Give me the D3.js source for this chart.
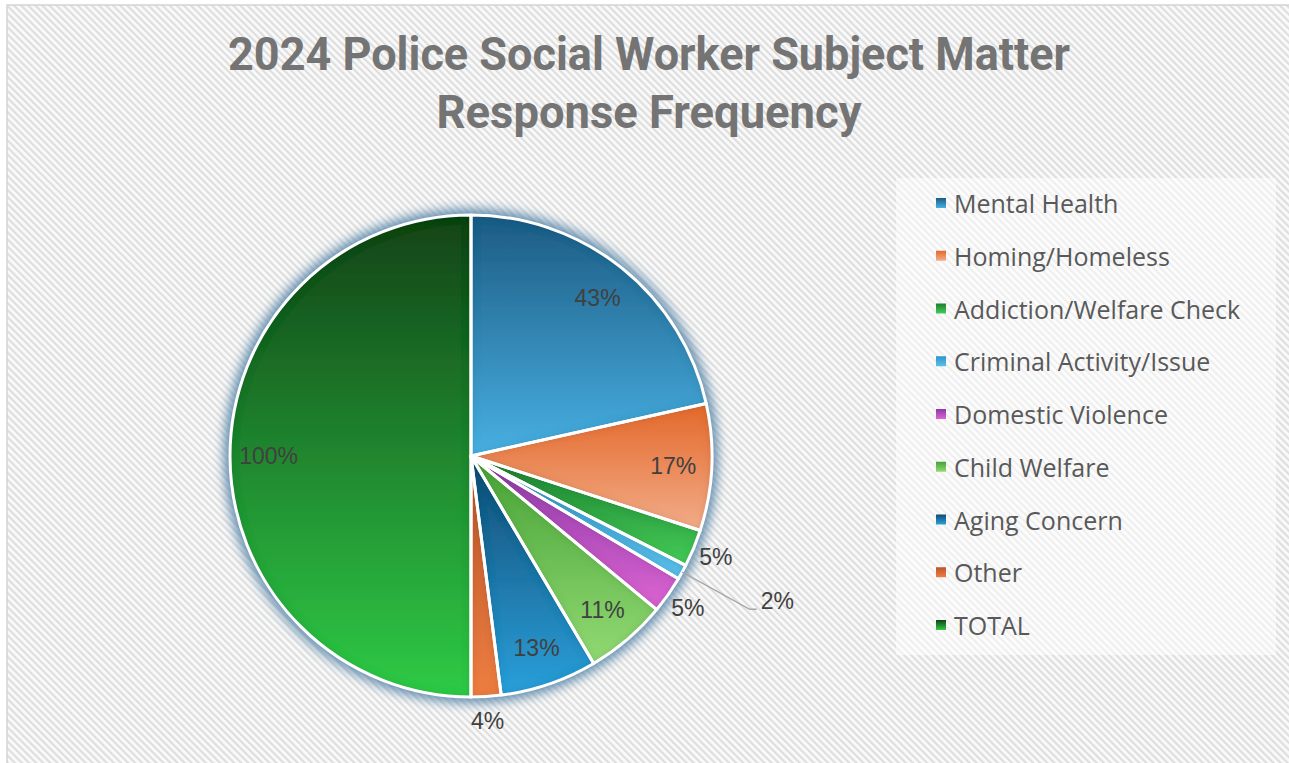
<!DOCTYPE html>
<html>
<head>
<meta charset="utf-8">
<script src="https://cdn.jsdelivr.net/npm/d3@7"></script>
<style>
  body { margin: 0; background: #ffffff; }
  svg { display: block; }
</style>
</head>
<body>
<svg id="chart" width="1289" height="763"></svg>
<script>
// Subject matter categories and their response frequency (percent)
const categories = [
  "Mental Health",
  "Homing/Homeless",
  "Addiction/Welfare Check",
  "Criminal Activity/Issue",
  "Domestic Violence",
  "Child Welfare",
  "Aging Concern",
  "Other",
  "TOTAL"
];
const percentValues = [43, 17, 5, 2, 5, 11, 13, 4, 100];
const titleLines = ["2024 Police Social Worker Subject Matter", "Response Frequency"];

// Where each data label sits relative to its slice
const labelPlacement = ["inside", "inside", "outside", "leader", "outside", "inside", "inside", "outside", "inside"];

// Gradient stops per slice (top -> bottom)
const sliceTopColors    = ["#1c5b83", "#e3682b", "#1d7f30", "#2f94c8", "#8a3aa6", "#46a236", "#134b72", "#b9562b", "#114317"];
const sliceBottomColors = ["#48b0e2", "#f3ad89", "#45cc58", "#5ac0ea", "#dc64d2", "#92da74", "#2aa0db", "#ee7e42", "#2fcb46"];

const W = 1289, H = 763;
const svg = d3.select("#chart");
const defs = svg.append("defs");

// Diagonal striped background
const pat = defs.append("pattern")
  .attr("id", "stripes")
  .attr("patternUnits", "userSpaceOnUse")
  .attr("width", 5).attr("height", 5)
  .attr("patternTransform", "rotate(-45)");
pat.append("rect").attr("width", 5).attr("height", 5).attr("fill", "#fafafa");
pat.append("rect").attr("width", 2.2).attr("height", 5).attr("fill", "#dedede");

svg.append("rect").attr("width", W).attr("height", H).attr("fill", "#ffffff");
svg.append("rect")
  .attr("x", 7).attr("y", 5).attr("width", W).attr("height", H)
  .attr("fill", "url(#stripes)")
  .attr("stroke", "#d4d4d4").attr("stroke-width", 1.5);

// Title
const title = svg.append("g")
  .attr("font-family", "Roboto, 'Liberation Sans', sans-serif")
  .attr("font-weight", 700)
  .attr("fill", "#747474")
  .attr("text-anchor", "middle");
const titleBaselines = [70, 128];
const titleWidths = [842, 425];
titleLines.forEach((line, i) => {
  title.append("text")
    .attr("x", 649).attr("y", titleBaselines[i])
    .attr("font-size", 46)
    .attr("textLength", titleWidths[i])
    .attr("lengthAdjust", "spacingAndGlyphs")
    .text(line);
});

// Pie
const cx = 471, cy = 456, radius = 241;
const data = categories.map((c, i) => ({ name: c, value: percentValues[i], i }));
const pie = d3.pie().sort(null).value(d => d.value);
const arcs = pie(data);
const arc = d3.arc().innerRadius(0).outerRadius(radius);

categories.forEach((c, i) => {
  const g = defs.append("linearGradient")
    .attr("id", "grad" + i)
    .attr("x1", 0).attr("y1", 0).attr("x2", 0).attr("y2", 1);
  g.append("stop").attr("offset", "0%").attr("stop-color", sliceTopColors[i]);
  g.append("stop").attr("offset", "100%").attr("stop-color", sliceBottomColors[i]);
});

const glow = defs.append("filter").attr("id", "glow")
  .attr("x", "-20%").attr("y", "-20%").attr("width", "140%").attr("height", "140%");
glow.append("feGaussianBlur").attr("stdDeviation", 5.5);

const inner = defs.append("filter").attr("id", "innerShade")
  .attr("x", "-10%").attr("y", "-10%").attr("width", "120%").attr("height", "120%");
inner.append("feGaussianBlur").attr("in", "SourceAlpha").attr("stdDeviation", 4).attr("result", "blur");
inner.append("feComposite").attr("in", "SourceAlpha").attr("in2", "blur").attr("operator", "arithmetic")
  .attr("k2", 1).attr("k3", -1).attr("result", "edge");
inner.append("feFlood").attr("flood-color", "#000").attr("flood-opacity", 0.3);
inner.append("feComposite").attr("in2", "edge").attr("operator", "in").attr("result", "shade");
const merge = inner.append("feMerge");
merge.append("feMergeNode").attr("in", "SourceGraphic");
merge.append("feMergeNode").attr("in", "shade");

const pieG = svg.append("g").attr("transform", `translate(${cx},${cy})`);

// soft bluish halo around the pie
pieG.append("circle")
  .attr("r", radius + 6)
  .attr("fill", "#5a88ab")
  .attr("opacity", 0.95)
  .attr("filter", "url(#glow)");

pieG.selectAll("path.slice")
  .data(arcs)
  .join("path")
  .attr("class", "slice")
  .attr("d", arc)
  .attr("fill", d => `url(#grad${d.index})`)
  .attr("filter", "url(#innerShade)");

pieG.selectAll("path.edge")
  .data(arcs)
  .join("path")
  .attr("class", "edge")
  .attr("d", arc)
  .attr("fill", "none")
  .attr("stroke", "#ffffff")
  .attr("stroke-width", 3)
  .attr("stroke-linejoin", "round");

// Data labels
const insideArc = d3.arc().innerRadius(radius * 0.84).outerRadius(radius * 0.84);
const outsideArc = d3.arc().innerRadius(radius * 1.1).outerRadius(radius * 1.1);
const edgeArc = d3.arc().innerRadius(radius).outerRadius(radius);
const elbowArc = d3.arc().innerRadius(radius * 1.32).outerRadius(radius * 1.32);

const labels = pieG.append("g")
  .attr("font-family", "'Liberation Sans', Arial, sans-serif")
  .attr("font-size", 23)
  .attr("fill", "#404040");

arcs.forEach((d, i) => {
  const txt = d.data.value + "%";
  if (labelPlacement[i] === "leader") {
    const [sx, sy] = edgeArc.centroid(d);
    const [ex, ey] = elbowArc.centroid(d);
    labels.append("polyline")
      .attr("points", [[sx, sy], [ex, ey], [ex + 7, ey]].map(p => p.join(",")).join(" "))
      .attr("fill", "none")
      .attr("stroke", "#a6a6a6")
      .attr("stroke-width", 1.3);
    labels.append("text")
      .attr("x", ex + 11).attr("y", ey - 8)
      .attr("dominant-baseline", "central")
      .attr("text-anchor", "start")
      .text(txt);
  } else {
    const [x, y] = (labelPlacement[i] === "inside" ? insideArc : outsideArc).centroid(d);
    labels.append("text")
      .attr("x", x).attr("y", y)
      .attr("text-anchor", "middle")
      .attr("dominant-baseline", "central")
      .text(txt);
  }
});

// Legend
const legend = svg.append("g");
legend.append("rect")
  .attr("x", 896).attr("y", 178).attr("width", 380).attr("height", 477)
  .attr("fill", "#ffffff").attr("opacity", 0.5);

const rowY = d3.scalePoint().domain(categories).range([203, 625]);
categories.forEach((c, i) => {
  const y = rowY(c);
  legend.append("rect")
    .attr("x", 936).attr("y", y - 5).attr("width", 10).attr("height", 10)
    .attr("fill", `url(#grad${i})`);
  legend.append("text")
    .attr("x", 954).attr("y", y)
    .attr("dominant-baseline", "central")
    .attr("font-family", "'Open Sans', 'Noto Sans', sans-serif")
    .attr("font-size", 25)
    .attr("fill", "#595959")
    .text(c);
});
</script>
</body>
</html>
